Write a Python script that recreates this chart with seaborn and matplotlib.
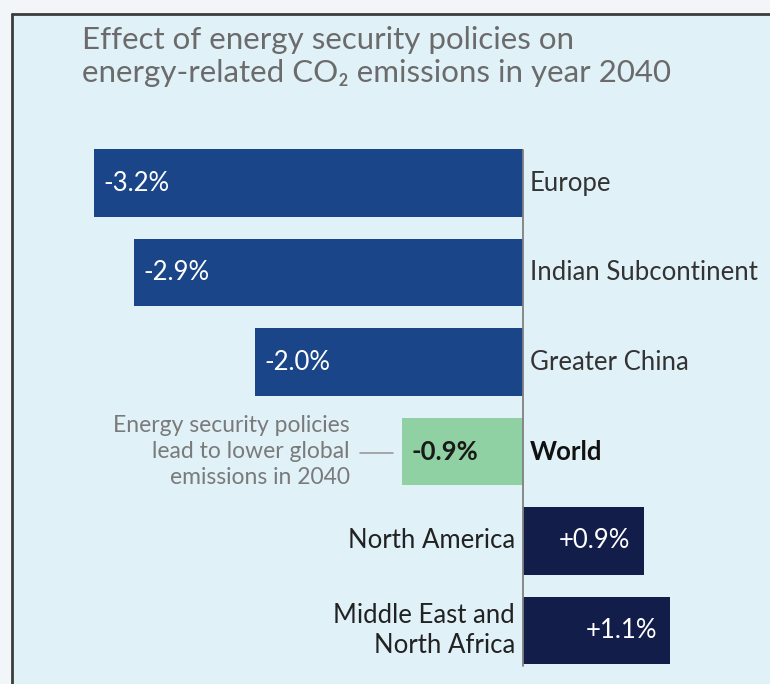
import matplotlib
matplotlib.use("Agg")
import matplotlib.pyplot as plt
import matplotlib.patches as mpatches
import seaborn as sns
import pandas as pd

regions = ["Europe", "Indian Subcontinent", "Greater China", "World",
           "North America", "Middle East and\nNorth Africa"]
values = [-3.2, -2.9, -2.0, -0.9, 0.9, 1.1]
value_labels = ["-3.2%", "-2.9%", "-2.0%", "-0.9%", "+0.9%", "+1.1%"]
colors = ["#1a4689", "#1a4689", "#1a4689", "#8fd1a2", "#131d4a", "#131d4a"]
title = "Effect of energy security policies on\nenergy-related CO\u2082 emissions in year 2040"
note = "Energy security policies\nlead to lower global\nemissions in 2040"

sns.set_theme(style="white")
plt.rcParams["font.family"] = ["Lato", "DejaVu Sans"]

W, H = 770, 684
fig = plt.figure(figsize=(W / 100, H / 100), dpi=100)
fig.patch.set_facecolor("#f3f6f9")

# panel background
panel = mpatches.Rectangle((12 / W, 0), 1, 1 - 14 / H, transform=fig.transFigure,
                           facecolor="#e0f1f8", edgecolor="none", zorder=-5)
fig.patches.append(panel)
fig.add_artist(plt.Line2D([12 / W, 12 / W], [0, 1 - 14 / H], transform=fig.transFigure,
                          color="#3c3c3c", lw=2, zorder=-4))
fig.add_artist(plt.Line2D([12 / W, 1], [1 - 14 / H, 1 - 14 / H], transform=fig.transFigure,
                          color="#3c3c3c", lw=2, zorder=-4))

ax = fig.add_axes([0, 0, 1, 1])
ax.set_zorder(2)
ax.set_facecolor("none")
ax.patch.set_alpha(0)

df = pd.DataFrame({"region": regions, "value": values})
sns.barplot(data=df, x="value", y="region", hue="region", palette=colors,
            orient="h", width=0.75, legend=False, ax=ax, saturation=1,
            linewidth=0)

zero_px = 523
unit_px = 134.0
ax.set_xlim(-zero_px / unit_px, (W - zero_px) / unit_px)
y0 = 183.0
dy = 89.5
ax.set_ylim((H - y0) / dy, -y0 / dy)
ax.axis("off")

# zero line
ax.plot([0, 0], [-0.37, 5.4], color="#808080", lw=1.3, zorder=5)

for i, (v, lab, reg) in enumerate(zip(values, value_labels, regions)):
    is_world = reg == "World"
    if v < 0:
        ax.text(v + 9 / unit_px, i, lab, ha="left", va="center", fontsize=18.5,
                color="#1a1a1a" if is_world else "white",
                fontweight="bold" if is_world else "normal")
        ax.text(7 / unit_px, i, reg, ha="left", va="center", fontsize=18.5,
                color="#111111" if is_world else "#333333",
                fontweight="bold" if is_world else "normal")
    else:
        ax.text(v - 13 / unit_px, i, lab, ha="right", va="center", fontsize=18.5,
                color="white")
        ax.text(-8 / unit_px, i, reg, ha="right", va="center", fontsize=18.5,
                color="#222222", linespacing=1.28)

# annotation
ax.text(-173 / unit_px, 3.0, note, ha="right", va="center", fontsize=16.5,
        color="#7a7a7a", linespacing=1.3)
ax.plot([-163 / unit_px, -130 / unit_px], [3.02, 3.02], color="#9a9a9a", lw=1.2)

fig.text(82 / W, 1 - 26 / H, title, ha="left", va="top", fontsize=22.5,
         color="#6b6b6b", linespacing=1.2, zorder=3)

fig.savefig("out.png", dpi=100, facecolor=fig.get_facecolor())
